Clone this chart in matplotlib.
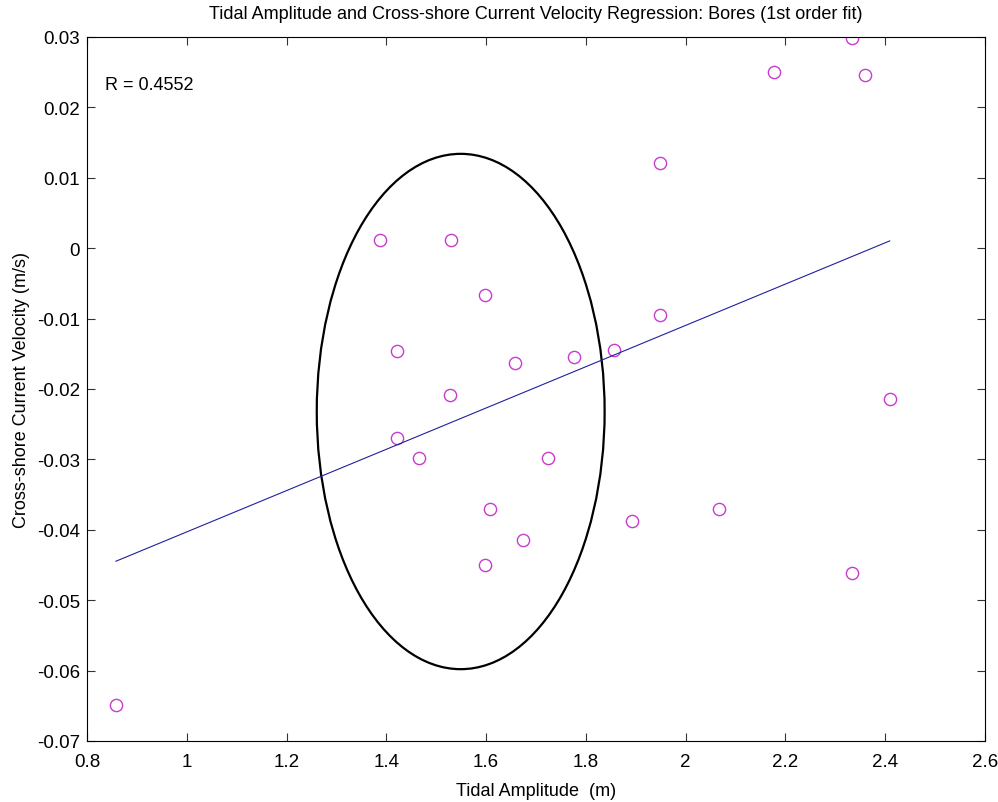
import numpy as np
import matplotlib.pyplot as plt
from matplotlib.patches import Ellipse

plt.rcParams['font.family'] = ['Liberation Sans', 'DejaVu Sans']

# Bore events: tidal amplitude (m) vs cross-shore current velocity (m/s)
tidal_amp = [0.858, 1.388, 1.529, 1.598, 1.421, 1.658, 1.776, 1.527,
             1.421, 1.465, 1.724, 1.608, 1.674, 1.598, 1.948, 1.948,
             1.856, 1.892, 2.067, 2.177, 2.333, 2.359, 2.409, 2.334]
cross_vel = [-0.0649, 0.0011, 0.0011, -0.0067, -0.0146, -0.0163, -0.0154, -0.0209,
             -0.0270, -0.0298, -0.0298, -0.0370, -0.0414, -0.0450, 0.0121, -0.0095,
             -0.0145, -0.0388, -0.0371, 0.0250, 0.0298, 0.0246, -0.0214, -0.0461]
r_value = 0.4552

# highlighted cluster
ell_center = (1.549, -0.0232)
ell_width = 0.577
ell_height = 0.0732

x = np.array(tidal_amp)
y = np.array(cross_vel)
p = np.polyfit(x, y, 1)
xfit = np.array([x.min(), x.max()])
yfit = np.polyval(p, xfit)

fig = plt.figure(figsize=(9.98, 8.03), dpi=100)
ax = fig.add_axes([0.0872, 0.0760, 0.8998, 0.8767])

ax.plot(x, y, 'o', mfc='none', mec='#c83ccd', ms=8.8, mew=1.0)
ax.plot(xfit, yfit, color='#2020a0', lw=0.8)
ax.add_patch(Ellipse(ell_center, ell_width, ell_height, fill=False,
                     ec='black', lw=1.6))

ax.text(0.836, 0.0232, 'R = %.4f' % r_value, fontsize=13, va='center')

ax.set_xlim(0.8, 2.6)
ax.set_ylim(-0.07, 0.03)
ax.set_xticks(np.arange(0.8, 2.61, 0.2))
ax.set_yticks(np.arange(-0.07, 0.031, 0.01))
ax.set_xticklabels(['0.8', '1', '1.2', '1.4', '1.6', '1.8', '2', '2.2', '2.4', '2.6'])
ax.set_yticklabels(['-0.07', '-0.06', '-0.05', '-0.04', '-0.03', '-0.02',
                    '-0.01', '0', '0.01', '0.02', '0.03'])
ax.tick_params(direction='in', top=True, right=True, length=6, labelsize=13.5,
               color='#333333')
ax.tick_params(axis='x', pad=9)
ax.tick_params(axis='y', pad=5)
for s in ax.spines.values():
    s.set_linewidth(0.8)

ax.set_xlabel('Tidal Amplitude  (m)', fontsize=13, labelpad=8)
ax.set_ylabel('Cross-shore Current Velocity (m/s)', fontsize=13, labelpad=5)
ax.set_title('Tidal Amplitude and Cross-shore Current Velocity Regression: Bores (1st order fit)',
             fontsize=13, pad=14)

fig.savefig('out.png', dpi=100)
